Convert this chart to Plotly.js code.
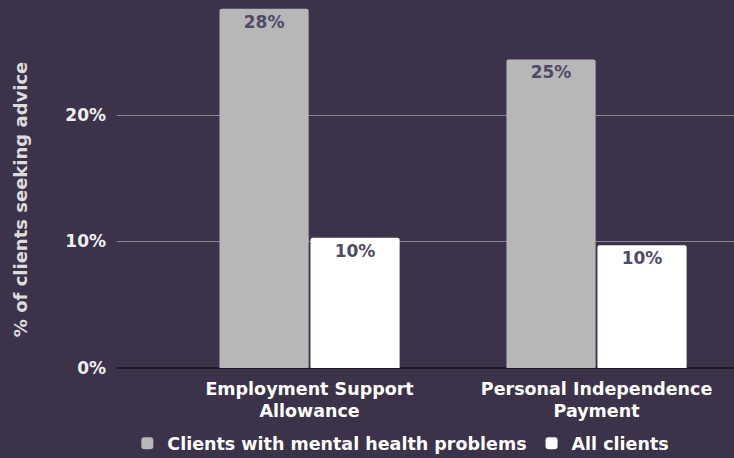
<!DOCTYPE html>
<html>
<head>
<meta charset="utf-8">
<script src="https://cdn.plot.ly/plotly-3.0.1.min.js"></script>
<style>html,body{margin:0;padding:0;background:#3c3249;}#chart{width:734px;height:458px;}</style>
</head>
<body>
<div id="chart"></div>
<script>
const categories = ["Employment Support<br>Allowance", "Personal Independence<br>Payment"];
const seriesNames = ["Clients with mental health problems", "All clients"];
const mentalHealth = [28.4, 24.4];
const allClients = [10.3, 9.7];
const mentalHealthLabels = ["28%", "25%"];
const allClientsLabels = ["10%", "10%"];
const yTickVals = [0, 10, 20];
const yTickText = ["0%", "10%", "20%"];
const yTitle = "% of clients seeking advice";

const font = "DejaVu Sans, Verdana, sans-serif";
const labelFont = {family: font, size: 17, color: "#514a66", weight: "bold"};

const traces = [
  {type: "bar", name: seriesNames[0], x: categories, y: mentalHealth, text: mentalHealthLabels,
   textposition: "inside", insidetextanchor: "end", textfont: labelFont, hoverinfo: "skip",
   marker: {color: "#b7b7b7"}},
  {type: "bar", name: seriesNames[1], x: categories, y: allClients, text: allClientsLabels,
   textposition: "inside", insidetextanchor: "end", textfont: labelFont, hoverinfo: "skip",
   marker: {color: "#ffffff"}}
];

const layout = {
  width: 734, height: 458,
  paper_bgcolor: "#3c3249", plot_bgcolor: "#3c3249",
  margin: {l: 117, r: 0, t: 0, b: 90, autoexpand: false},
  barmode: "group", bargap: 0.366, bargroupgap: 0.02, barcornerradius: 2,
  font: {family: font, color: "#f2f2f2"},
  xaxis: {type: "category", range: [-0.671, 1.479], showgrid: false, ticks: "",
          automargin: false, ticklabelstandoff: 8,
          tickfont: {family: font, size: 17.5, color: "#ffffff", weight: "bold"}},
  yaxis: {range: [0, 29.1], tickvals: yTickVals, ticktext: yTickText, automargin: false,
          showgrid: true, gridcolor: "#8a8592", gridwidth: 1,
          zeroline: true, zerolinecolor: "#1f1a26", zerolinewidth: 2,
          tickfont: {family: font, size: 17, color: "#eeeeee", weight: "bold"},
          ticklabelstandoff: 10},
  annotations: [{text: yTitle, xref: "paper", yref: "paper", x: -0.157, y: 0.4565,
                 xanchor: "center", yanchor: "middle", textangle: -90, showarrow: false,
                 font: {family: font, size: 18, color: "#dcdcdc", weight: "bold"}}],
  showlegend: true,
  legend: {orientation: "h", x: 0.46, xanchor: "center", y: -0.205, yanchor: "middle",
           font: {family: font, size: 17.5, color: "#ffffff", weight: "bold"},
           bgcolor: "rgba(0,0,0,0)"}
};

Plotly.newPlot("chart", traces, layout, {displayModeBar: false, staticPlot: true});
</script>
</body>
</html>
